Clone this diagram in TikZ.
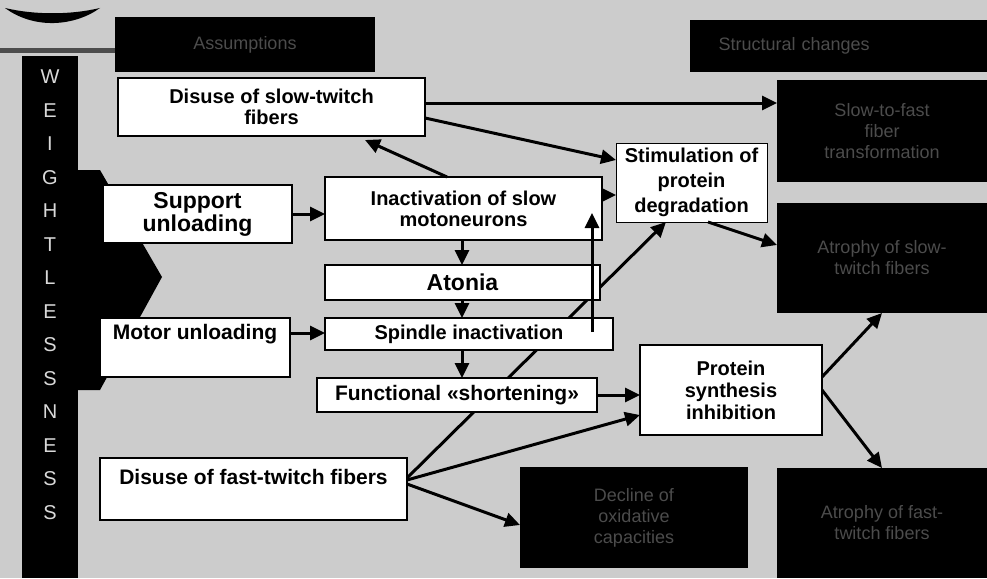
\documentclass[tikz,border=0pt]{standalone}
\usepackage{fontspec}
\setmainfont{Liberation Sans}
\usetikzlibrary{arrows.meta,calc}
\pgfdeclarelayer{bg}
\pgfdeclarelayer{lines}
\pgfsetlayers{bg,lines,main}
\begin{document}
\begin{tikzpicture}[x=1pt,y=-1pt,
  wbox/.style={draw=black,line width=2pt,fill=white,inner sep=1pt,outer sep=0pt,anchor=north west,align=center,
    font=\bfseries\fontsize{20}{21}\selectfont},
  bigtxt/.style={font=\bfseries\fontsize{23}{23}\selectfont},
  btxt/.style={font=\bfseries\fontsize{21}{21}\selectfont,inner sep=0pt},
  bbox/.style={fill=black,draw=none,inner sep=2pt,outer sep=0pt,anchor=north west,align=center,
    text=white!30!black,font=\fontsize{18}{21}\selectfont},
  letter/.style={text=white!85!black,font=\fontsize{20}{20}\selectfont,inner sep=0pt},
  arr/.style={line width=3pt,-{Triangle[length=15pt,width=14pt]}}
]
\begin{pgfonlayer}{bg}
  \fill[black!20] (0,0) rectangle (987,578);
  \fill[black] (5,8) .. controls (35,30) and (75,26) .. (100,8) .. controls (70,15) and (35,15) .. cycle;
  \fill[black!70] (0,48) rectangle (115,53);
  \fill[black] (22,56) rectangle (78,578);
  \fill[black] (78,170) -- (100,170) -- (162,277) -- (100,390) -- (78,390) -- cycle;
\end{pgfonlayer}

% letters of WEIGHTLESSNESS
\foreach \ch [count=\i from 0] in {W,E,I,G,H,T,L,E,S,S,N,E,S,S}
  \node[letter] (w\i) at (50,{77+33.5*\i}) {\ch};

% header boxes
\node[bbox,minimum width=260pt,minimum height=55pt] (K) at (115,17) {Assumptions};
\node[bbox,minimum width=297pt,minimum height=52pt,text width=280pt,align=left] (L) at (690,20) {\hspace*{20pt}Structural changes};

% white boxes
\node[wbox,minimum width=307pt,minimum height=58pt] (A) at (118,78) {Disuse of slow-twitch\\fibers};
\node[wbox,minimum width=189pt,minimum height=58pt,bigtxt] (B) at (103,185) {Support\\unloading};
\node[wbox,minimum width=190pt,minimum height=59pt] (C) at (100,318) {};
\node[btxt,anchor=center] (Ct) at ($(C.north)+(0,16)$) {Motor unloading};
\node[wbox,minimum width=277pt,minimum height=63pt] (D) at (325,177) {Inactivation of slow\\motoneurons};
\node[wbox,minimum width=275pt,minimum height=35pt,bigtxt] (E) at (325,265) {Atonia};
\node[wbox,minimum width=288pt,minimum height=32pt] (F) at (325,318) {Spindle inactivation};
\node[wbox,minimum width=280pt,minimum height=34pt,font=\bfseries\fontsize{21}{21}\selectfont] (G) at (317,378) {Functional «shortening»};
\node[wbox,minimum width=151pt,minimum height=79pt,line width=1pt,font=\bfseries\fontsize{20}{25}\selectfont] (H) at (616,143) {Stimulation of\\protein\\degradation};
\node[wbox,minimum width=182pt,minimum height=90pt,line width=1.2pt,font=\bfseries\fontsize{20}{22}\selectfont] (I) at (640,345) {Protein\\synthesis\\inhibition};
\node[wbox,minimum width=307pt,minimum height=62pt] (J) at (100,458) {};
\node[btxt,anchor=center] (Jt) at ($(J.north)+(0,19)$) {Disuse of fast-twitch fibers};

% black result boxes
\node[bbox,minimum width=210pt,minimum height=102pt] (M) at (777,80) {Slow-to-fast\\fiber\\transformation};
\node[bbox,minimum width=210pt,minimum height=110pt] (N) at (777,203) {Atrophy of slow-\\twitch fibers};
\node[bbox,minimum width=228pt,minimum height=101pt] (O) at (520,467) {Decline of\\oxidative\\capacities};
\node[bbox,minimum width=210pt,minimum height=110pt] (P) at (777,468) {Atrophy of fast-\\twitch fibers};

% connector hidden behind boxes
\begin{pgfonlayer}{lines}
  \draw[arr] ($(J.north east)+(0,20)$) -- ($(H.south west)+(50,0)$);
\end{pgfonlayer}

% connectors
\draw[arr] ($(A.north east)+(0,25)$) -- ($(M.north west)+(0,23)$);
\draw[arr] ($(A.north east)+(0,40)$) -- ($(H.north west)+(0,17)$);
\draw[arr] ($(D.north west)+(122,0)$) -- ($(A.south west)+(247,4)$);
\draw[arr] (B.east) -- (D.west |- B.east);
\draw[arr] ($(D.south west)+(137,0)$) -- ($(E.north west)+(137,0)$);
\draw[arr] ($(E.south west)+(137,0)$) -- ($(F.north west)+(137,0)$);
\draw[arr] ($(F.south west)+(137,0)$) -- ($(G.north west)+(145,0)$);
\draw[arr] ($(C.north east)+(0,15)$) -- ($(F.north west)+(0,15)$);
\draw[arr] ($(F.north west)+(267,14)$) -- ($(D.north west)+(267,36)$);
\draw[arr] ($(D.north east)+(0,18)$) -- ($(H.north west)+(0,52)$);
\draw[arr] (G.east) -- (I.west |- G.east);
\draw[arr] ($(J.north east)+(0,22)$) -- ($(I.south west)+(0,-20)$);
\draw[arr] ($(J.north east)+(0,26)$) -- ($(O.north west)+(0,58)$);
\draw[arr] ($(I.north east)+(0,32)$) -- ($(N.south west)+(105,0)$);
\draw[arr] ($(I.north east)+(0,45)$) -- ($(P.north west)+(105,0)$);
\draw[arr] ($(H.south west)+(92,0)$) -- ($(N.north west)+(0,42)$);
\end{tikzpicture}
\end{document}
